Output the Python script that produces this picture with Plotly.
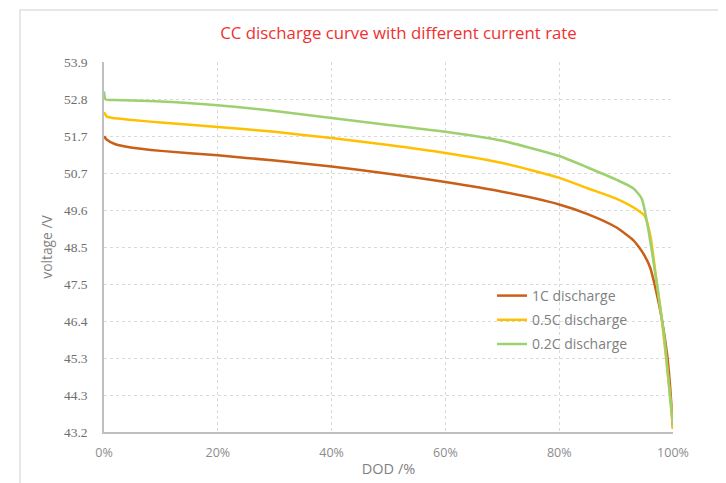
import plotly.graph_objects as go

# DOD (%) and voltage (V)
dod_1c = [0, 0.5, 2, 5, 10, 20, 30, 40, 50, 60, 70, 80, 85, 90, 93, 94, 95, 96, 97, 98, 99, 99.5, 100]
v_1c = [51.75, 51.65, 51.52, 51.42, 51.33, 51.2, 51.05, 50.88, 50.67, 50.43, 50.15, 49.78, 49.5,
        49.12, 48.75, 48.55, 48.3, 47.95, 47.3, 46.5, 45.4, 44.5, 43.3]

dod_05c = [0, 0.5, 2, 5, 10, 20, 30, 40, 50, 60, 70, 80, 85, 90, 93, 95, 96, 97, 98, 99, 99.5, 100]
v_05c = [52.45, 52.32, 52.27, 52.22, 52.15, 52.02, 51.88, 51.7, 51.5, 51.27, 50.98, 50.55, 50.25,
         49.95, 49.7, 49.45, 48.9, 47.7, 46.5, 45.0, 44.2, 43.3]

dod_02c = [0, 0.3, 2, 5, 10, 20, 30, 40, 50, 60, 70, 80, 85, 90, 93, 94.5, 95.5, 96.5, 97.5, 98.5, 99.5, 100]
v_02c = [53.05, 52.82, 52.8, 52.79, 52.76, 52.65, 52.48, 52.28, 52.08, 51.88, 51.62, 51.18, 50.85,
         50.5, 50.25, 49.95, 49.2, 48.2, 47.1, 45.9, 44.2, 43.4]

series_names = ["1C discharge", "0.5C discharge", "0.2C discharge"]
series_colors = ["#C8601A", "#FFC000", "#9DD06E"]

y_tick_vals = [43.2, 44.27, 45.34, 46.41, 47.48, 48.55, 49.62, 50.69, 51.76, 52.83, 53.9]
y_tick_text = ["43.2", "44.3", "45.3", "46.4", "47.5", "48.5", "49.6", "50.7", "51.7", "52.8", "53.9"]
x_tick_vals = [0, 20, 40, 60, 80, 100]
x_tick_text = ["0%", "20%", "40%", "60%", "80%", "100%"]

fig = go.Figure()
for i, (xs, ys, name, col) in enumerate(zip([dod_1c, dod_05c, dod_02c], [v_1c, v_05c, v_02c],
                                            series_names, series_colors)):
    fig.add_trace(go.Scatter(x=xs, y=ys, name=name, mode="lines", legendgroup=f"g{i}",
                             line=dict(color=col, width=2.5, shape="spline", smoothing=0.6)))

# page offset of 8px (browser body margin) is compensated for
OFF = 8
W, H = 726, 483
L = 104 - OFF
T = 62 - OFF
R = W - (673 - OFF)
B = H - (432 - OFF)
pw, ph = W - L - R, H - T - B

fig.update_layout(
    width=W, height=H,
    margin=dict(l=L, r=R, t=T, b=B, autoexpand=False),
    paper_bgcolor="white", plot_bgcolor="white",
    title=dict(text="CC discharge curve with different current rate",
               font=dict(family="Open Sans", size=16.8, color="#F03030"),
               x=(398.5 - OFF) / W, xanchor="center", y=1 - (33 - OFF) / H, yanchor="middle"),
    xaxis=dict(range=[0, 100], tickvals=x_tick_vals, ticktext=x_tick_text, automargin=False,
               showgrid=True, gridcolor="#D9D9D9", griddash="dot", gridwidth=1,
               showline=True, linecolor="#BFBFBF", linewidth=1.5, zeroline=False,
               ticks="outside", ticklen=8, tickcolor="rgba(0,0,0,0)",
               tickfont=dict(family="Open Sans", size=12.5, color="#8C8C8C"),
               title=dict(text="DOD /%", font=dict(family="Open Sans", size=14.5, color="#7F7F7F"), standoff=4)),
    yaxis=dict(range=[43.2, 53.9], tickvals=y_tick_vals, ticktext=y_tick_text, automargin=False,
               showgrid=True, gridcolor="#D9D9D9", griddash="dot", gridwidth=1,
               showline=True, linecolor="#BFBFBF", linewidth=1.5, zeroline=False,
               ticks="outside", ticklen=12, tickcolor="rgba(0,0,0,0)",
               tickfont=dict(family="Liberation Serif", size=13.5, color="#6E6E6E"),
               title=dict(text="voltage /V", font=dict(family="Open Sans", size=13.8, color="#7F7F7F"), standoff=8)),
    legend=dict(x=(492 - OFF - L) / pw, y=(432 - 280) / ph, xanchor="left", yanchor="top",
                bgcolor="rgba(0,0,0,0)", font=dict(family="Open Sans", size=14, color="#7F7F7F"),
                tracegroupgap=3, itemwidth=30),
    showlegend=True,
)

fig.add_shape(type="rect", xref="paper", yref="paper",
              x0=(20 - OFF - L) / pw, x1=(740 - L) / pw, y0=(432 - 500) / ph, y1=(432 - 10) / ph,
              line=dict(color="#E0E0E0", width=1.5), layer="below")

fig.write_html("out.html")
